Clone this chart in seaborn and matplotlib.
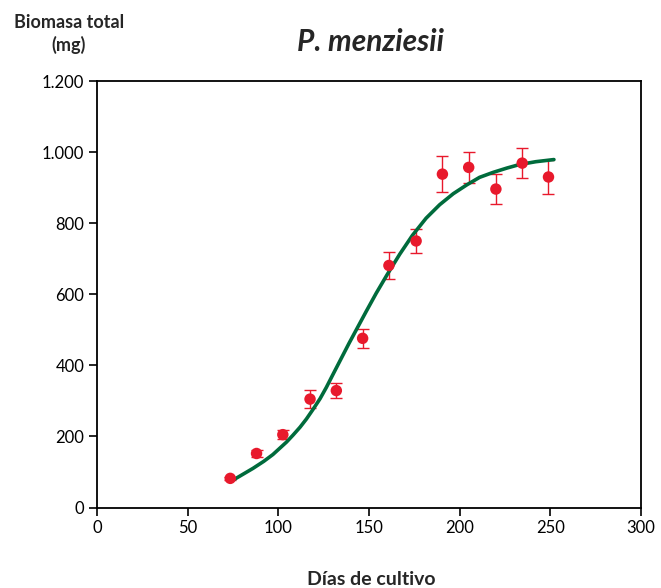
import pandas as pd
import matplotlib.pyplot as plt
import matplotlib.ticker as mticker
import seaborn as sns

# measured points (mean +- error)
dias = [73.5, 88, 102.5, 117.5, 132, 146.5, 161, 176, 190.5, 205, 220, 234.5, 249]
biomasa = [82, 152, 205, 305, 329, 476, 681, 750, 938, 957, 896, 969, 930]
error = [5, 9, 12, 26, 22, 27, 37, 35, 51, 43, 43, 43, 47]

# fitted curve
curva_x = [74, 80, 86, 92, 97, 104.5, 108, 112, 115.5, 119, 123, 126.5,
           130, 139, 148.5, 154, 160, 167, 174, 181.5, 189, 196.5, 204,
           211, 218.5, 226, 233, 242, 252]
curva_y = [74, 92, 110, 130, 149, 184, 203, 226, 249, 275, 306, 338,
           373, 462, 552, 603, 655, 713, 766, 814, 852, 883, 908,
           929, 943, 955, 965, 973, 979]

x_ticks = [0, 50, 100, 150, 200, 250, 300]
y_ticks = [0, 200, 400, 600, 800, 1000, 1200]

ROJO = "#e8192c"
VERDE = "#006b3c"


def miles(v, pos):
    return f"{int(v):,}".replace(",", ".")


def main():
    sns.set_style("ticks")
    plt.rcParams["font.family"] = ["Lato", "DejaVu Sans"]

    puntos = pd.DataFrame({"dias": dias, "biomasa": biomasa, "error": error})
    curva = pd.DataFrame({"dias": curva_x, "biomasa": curva_y})

    fig = plt.figure(figsize=(6.61, 5.88), dpi=100)
    ax = fig.add_axes([0.1467, 0.1369, 0.8230, 0.7253])

    ax.errorbar(puntos["dias"], puntos["biomasa"], yerr=puntos["error"],
                fmt="none", ecolor=ROJO, elinewidth=1.0, capsize=4,
                capthick=1.0, zorder=2)
    sns.lineplot(data=curva, x="dias", y="biomasa", color=VERDE,
                 linewidth=2.6, ax=ax, zorder=3)
    sns.scatterplot(data=puntos, x="dias", y="biomasa", color=ROJO, s=68,
                    edgecolor="none", ax=ax, zorder=4)

    ax.set_xlim(0, 300)
    ax.set_ylim(0, 1200)
    ax.set_xticks(x_ticks)
    ax.set_yticks(y_ticks)
    ax.yaxis.set_major_formatter(mticker.FuncFormatter(miles))
    ax.tick_params(direction="out", length=6, width=1.2, labelsize=12,
                   colors="black", pad=3)
    for s in ax.spines.values():
        s.set_visible(True)
        s.set_linewidth(1.3)
        s.set_color("black")

    ax.set_xlabel("")
    ax.set_ylabel("")
    fig.text(0.104, 0.962, "Biomasa total", ha="center", va="center",
             fontsize=13, fontweight="bold")
    fig.text(0.104, 0.923, "(mg)", ha="center", va="center",
             fontsize=13, fontweight="bold")
    fig.text(0.562, 0.014, "Días de cultivo", ha="center", va="center",
             fontsize=14, fontweight="bold")
    fig.text(0.561, 0.929, "P. menziesii", ha="center", va="center",
             fontsize=21.5, fontweight="bold", fontstyle="italic")

    fig.savefig("out.png", dpi=100)


if __name__ == "__main__":
    main()
